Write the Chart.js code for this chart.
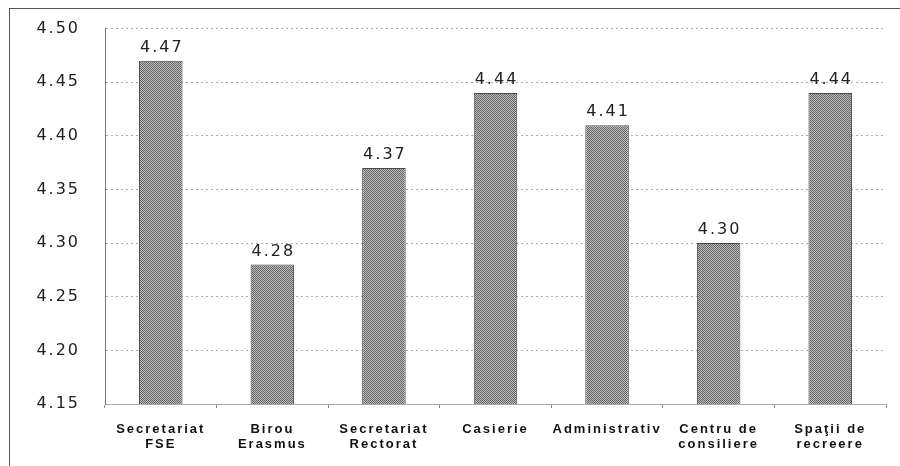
<!DOCTYPE html>
<html>
<head>
<meta charset="utf-8">
<script src="https://cdn.jsdelivr.net/npm/chart.js@4/dist/chart.umd.min.js"></script>
<style>
  html, body { margin: 0; padding: 0; background: #fff; }
  #wrap { position: relative; width: 900px; height: 466px; overflow: hidden; }
  #frame { position: absolute; left: 9px; top: 8px; width: 900px; height: 470px;
           border-left: 1px solid #555; border-top: 1px solid #555; }
  canvas { position: absolute; left: 0; top: -6px; }
</style>
</head>
<body>
<div id="wrap">
  <div id="frame"></div>
  <canvas id="chart" width="900" height="472"></canvas>
</div>
<script>
// categories and scores
const categories = [
    ['Secretariat', 'FSE'],
    ['Birou', 'Erasmus'],
    ['Secretariat', 'Rectorat'],
    'Casierie',
    'Administrativ',
    ['Centru de', 'consiliere'],
    ['Spaţii de', 'recreere']
];
const scores = [4.47, 4.28, 4.37, 4.44, 4.41, 4.30, 4.44];
const yTicks = [4.15, 4.20, 4.25, 4.30, 4.35, 4.40, 4.45, 4.50];

// grey stipple for the bars
function stipple() {
    let c = document.createElement('canvas');
    c.width = 2; c.height = 2;
    let g = c.getContext('2d');
    g.fillStyle = '#bdbdbd';
    g.fillRect(0, 0, 2, 2);
    g.fillStyle = '#656565';
    g.fillRect(0, 0, 1, 1);
    g.fillRect(1, 1, 1, 1);
    return g.createPattern(c, 'repeat');
}

// wide letter spacing like the original
const spacing = {
    id: 'spacing',
    beforeDraw(chart) { chart.ctx.letterSpacing = '2px'; },
    afterDraw(chart) { chart.ctx.letterSpacing = '0px'; }
};

const valueLabels = {
    id: 'valueLabels',
    afterDatasetsDraw(chart) {
        const ctx = chart.ctx;
        const meta = chart.getDatasetMeta(0);
        ctx.save();
        ctx.letterSpacing = '2px';
        ctx.font = '16px "DejaVu Sans"';
        ctx.fillStyle = '#222';
        ctx.textAlign = 'center';
        ctx.textBaseline = 'bottom';
        meta.data.forEach((bar, i) => {
            ctx.fillText(scores[i].toFixed(2), bar.x + 1, bar.y - 5);
        });
        ctx.restore();
    }
};

new Chart(document.getElementById('chart'), {
    type: 'bar',
    data: {
        labels: categories,
        datasets: [{
            data: scores,
            backgroundColor: stipple(),
            borderColor: '#4a4a4a',
            borderWidth: 1,
            barPercentage: 0.39,
            categoryPercentage: 1
        }]
    },
    options: {
        responsive: false,
        animation: false,
        layout: { padding: { left: 0, top: 17, right: 14, bottom: 0 } },
        plugins: { legend: { display: false }, tooltip: { enabled: false } },
        scales: {
            x: {
                afterFit(scale) { scale.height = 62; },
                grid: {
                    offset: true,
                    drawOnChartArea: false,
                    tickLength: 4,
                    color: '#888'
                },
                border: { color: '#aaa' },
                ticks: {
                    padding: 14,
                    color: '#111',
                    font: { family: '"Liberation Sans"', size: 13, weight: 'bold', lineHeight: 1.15 },
                    maxRotation: 0
                }
            },
            y: {
                min: 4.15,
                max: 4.50,
                afterFit(scale) { scale.width = 105; },
                afterBuildTicks(scale) { scale.ticks = yTicks.map(v => ({ value: v })); },
                grid: {
                    drawTicks: false,
                    color: '#aaa',
                    lineWidth: 1
                },
                border: { color: '#777', dash: [2, 3] },
                ticks: {
                    padding: 25,
                    color: '#222',
                    font: { family: '"DejaVu Sans"', size: 16 },
                    callback: v => v.toFixed(2)
                }
            }
        }
    },
    plugins: [spacing, valueLabels]
});
</script>
</body>
</html>
